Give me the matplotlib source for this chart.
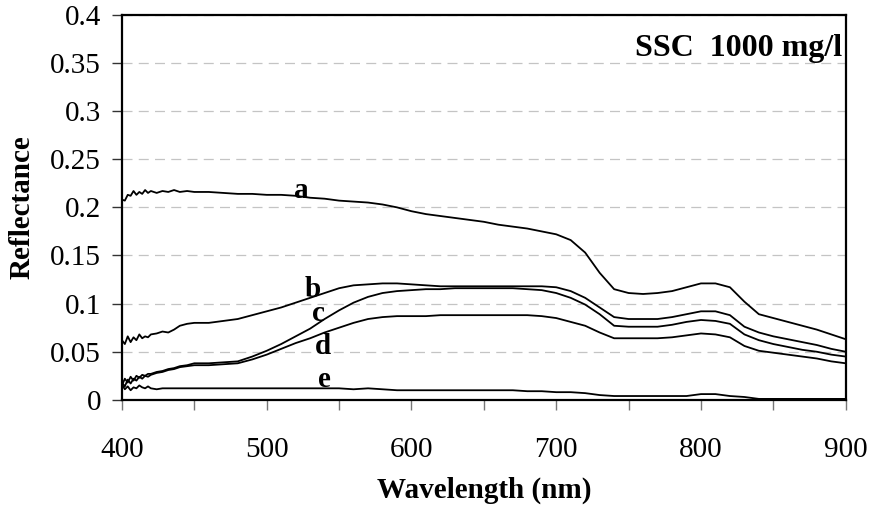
import matplotlib
matplotlib.use("Agg")
import matplotlib.pyplot as plt
from matplotlib.ticker import MultipleLocator, FuncFormatter

# wavelength grid (nm)
wavelength = [400, 402, 404, 406, 408, 410, 412, 414, 416, 418, 420, 424, 428, 432, 436, 440, 445, 450,
              460, 470, 480, 490, 500, 510, 520, 530, 540, 550, 560, 570, 580, 590, 600, 610, 620, 630,
              640, 650, 660, 670, 680, 690, 700, 710, 720, 730, 740, 750, 760, 770, 780, 790, 800, 810,
              820, 830, 840, 850, 860, 870, 880, 890, 900]

refl_a = [0.208, 0.207, 0.213, 0.212, 0.217, 0.213, 0.216, 0.214, 0.218, 0.215, 0.217, 0.215, 0.217, 0.216,
          0.218, 0.216, 0.217, 0.216,
          0.216, 0.215, 0.214, 0.214, 0.213, 0.213, 0.212, 0.210, 0.209, 0.207, 0.206, 0.205, 0.203, 0.200,
          0.196, 0.193, 0.191, 0.189, 0.187, 0.185, 0.182, 0.180, 0.178, 0.175, 0.172, 0.166, 0.153, 0.132,
          0.115, 0.111, 0.110, 0.111, 0.113, 0.117, 0.121, 0.121, 0.117, 0.102, 0.089, 0.085, 0.081, 0.077,
          0.073, 0.068, 0.063]

refl_b = [0.062, 0.058, 0.066, 0.060, 0.065, 0.062, 0.068, 0.064, 0.066, 0.065, 0.068, 0.069, 0.071, 0.070,
          0.073, 0.077, 0.079, 0.080,
          0.080, 0.082, 0.084, 0.088, 0.092, 0.096, 0.101, 0.106, 0.111, 0.116, 0.119, 0.120, 0.121, 0.121,
          0.120, 0.119, 0.118, 0.118, 0.118, 0.118, 0.118, 0.118, 0.118, 0.118, 0.117, 0.113, 0.106, 0.096,
          0.086, 0.084, 0.084, 0.084, 0.086, 0.089, 0.092, 0.092, 0.088, 0.076, 0.070, 0.066, 0.063, 0.060,
          0.057, 0.053, 0.050]

refl_c = [0.015, 0.022, 0.018, 0.024, 0.020, 0.025, 0.023, 0.026, 0.025, 0.027, 0.027, 0.029, 0.030, 0.032,
          0.033, 0.035, 0.036, 0.038,
          0.038, 0.039, 0.040, 0.045, 0.051, 0.058, 0.066, 0.074, 0.084, 0.093, 0.101, 0.107, 0.111, 0.113,
          0.114, 0.115, 0.115, 0.116, 0.116, 0.116, 0.116, 0.116, 0.115, 0.114, 0.111, 0.106, 0.099, 0.089,
          0.077, 0.076, 0.076, 0.076, 0.078, 0.081, 0.083, 0.082, 0.079, 0.068, 0.062, 0.058, 0.055, 0.052,
          0.050, 0.047, 0.045]

refl_d = [0.018, 0.014, 0.021, 0.017, 0.022, 0.020, 0.024, 0.022, 0.025, 0.024, 0.026, 0.028, 0.029, 0.031,
          0.032, 0.034, 0.035, 0.036,
          0.036, 0.037, 0.038, 0.042, 0.047, 0.053, 0.059, 0.064, 0.070, 0.075, 0.080, 0.084, 0.086, 0.087,
          0.087, 0.087, 0.088, 0.088, 0.088, 0.088, 0.088, 0.088, 0.088, 0.087, 0.085, 0.081, 0.077, 0.070,
          0.064, 0.064, 0.064, 0.064, 0.065, 0.067, 0.069, 0.068, 0.065, 0.056, 0.051, 0.049, 0.047, 0.045,
          0.043, 0.040, 0.038]

refl_e = [0.016, 0.011, 0.014, 0.010, 0.013, 0.012, 0.015, 0.013, 0.012, 0.014, 0.012, 0.011, 0.012, 0.012,
          0.012, 0.012, 0.012, 0.012,
          0.012, 0.012, 0.012, 0.012, 0.012, 0.012, 0.012, 0.012, 0.012, 0.012, 0.011, 0.012, 0.011, 0.010,
          0.010, 0.010, 0.010, 0.010, 0.010, 0.010, 0.010, 0.010, 0.009, 0.009, 0.008, 0.008, 0.007, 0.005,
          0.004, 0.004, 0.004, 0.004, 0.004, 0.004, 0.006, 0.006, 0.004, 0.003, 0.001, 0.001, 0.001, 0.001,
          0.001, 0.001, 0.001]

curve_names = ["a", "b", "c", "d", "e"]
# where each curve letter sits (wavelength, reflectance)
label_x = [524, 532, 536, 539, 540]
label_y = [0.203, 0.101, 0.076, 0.041, 0.007]

plt.rcParams["font.family"] = ["Liberation Serif", "DejaVu Serif"]

fig = plt.figure(figsize=(8.71, 5.12), dpi=100)
ax = fig.add_axes([0.140, 0.219, 0.831, 0.752])

for refl in [refl_a, refl_b, refl_c, refl_d, refl_e]:
    ax.plot(wavelength, refl, color="black", linewidth=1.3)

for name, lx, ly in zip(curve_names, label_x, label_y):
    ax.text(lx, ly, name, fontsize=21, fontweight="bold", ha="center", va="bottom")

ax.text(0.995, 0.913, "SSC  1000 mg/l", transform=ax.transAxes, fontsize=23,
        fontweight="bold", ha="right", va="center")

ax.set_xlim(400, 900)
ax.set_ylim(0, 0.4)
ax.xaxis.set_major_locator(MultipleLocator(100))
ax.xaxis.set_minor_locator(MultipleLocator(50))
ax.yaxis.set_major_locator(MultipleLocator(0.05))
ax.yaxis.set_major_formatter(FuncFormatter(lambda v, p: "%g" % round(v, 2)))

ax.grid(axis="y", color="#c4c4c4", linestyle=(0, (8, 5)), linewidth=0.9)
ax.set_axisbelow(True)

ax.tick_params(axis="x", which="both", direction="out", length=7, width=1, color="#777777",
               labelsize=21, pad=20)
ax.tick_params(axis="y", direction="out", length=7, width=1, color="#333333",
               labelsize=21, pad=8)

for side in ["left", "bottom", "top", "right"]:
    ax.spines[side].set_linewidth(1.6)
    ax.spines[side].set_color("black")

ax.set_xlabel("Wavelength (nm)", fontsize=21, fontweight="bold")
ax.set_ylabel("Reflectance", fontsize=21, fontweight="bold")
ax.xaxis.set_label_coords(0.5, -0.234)
ax.xaxis.label.set_va("center")
ax.yaxis.set_label_coords(-0.138, 0.5)
ax.yaxis.label.set_va("center")

fig.savefig("out.png", dpi=100)
